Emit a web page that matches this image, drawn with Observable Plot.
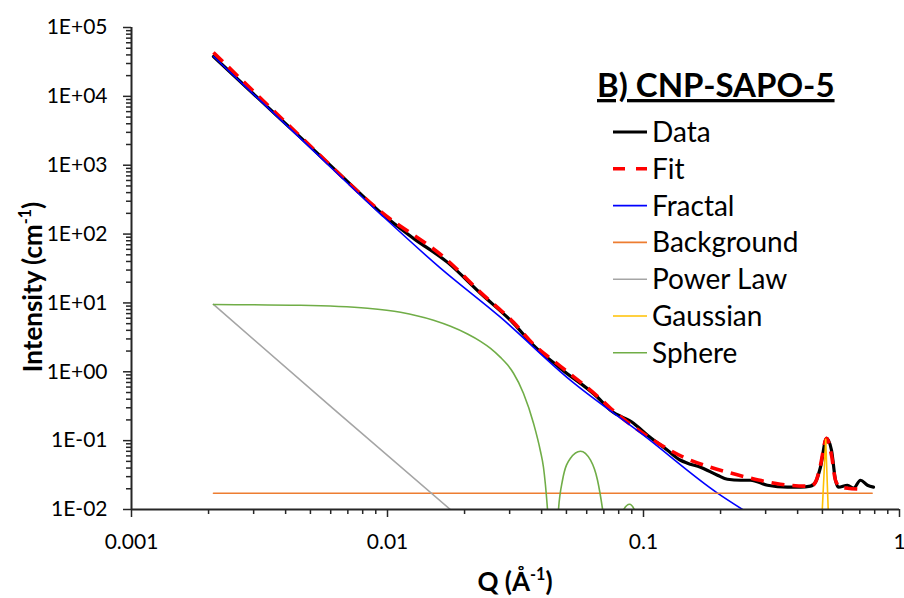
<!DOCTYPE html>
<html>
<head>
<meta charset="utf-8">
<script src="https://cdn.jsdelivr.net/npm/d3@7"></script>
<script src="https://cdn.jsdelivr.net/npm/@observablehq/plot@0.6"></script>
<style>
  html, body { margin: 0; padding: 0; background: #fff; }
  #wrap { width: 904px; height: 598px; }
</style>
</head>
<body>
<div id="wrap"></div>
<script>
// ---- data ----
const dataQ = [0.00209, 0.00319, 0.00457, 0.00717, 0.00939, 0.01264, 0.01716, 0.02308, 0.03106, 0.03718, 0.04741, 0.06613, 0.07433, 0.09139, 0.1036, 0.1241, 0.1395, 0.1485, 0.1670, 0.1945, 0.2129, 0.2393, 0.2618, 0.3050, 0.3652, 0.4106, 0.4491, 0.4696, 0.4912, 0.5186, 0.5425, 0.5623, 0.5777, 0.6263, 0.6610, 0.7040, 0.7499, 0.7914];
const dataI = [37950, 8720, 2532, 526, 206, 86.6, 38.8, 13.8, 5.06, 2.42, 1.12, 0.427, 0.276, 0.179, 0.120, 0.0726, 0.0519, 0.0470, 0.0411, 0.0315, 0.0275, 0.0266, 0.0266, 0.0225, 0.0211, 0.0211, 0.0218, 0.0249, 0.0411, 0.108, 0.0726, 0.0266, 0.0211, 0.0225, 0.0204, 0.0266, 0.0225, 0.0211];

const fitQ = [0.00209, 0.00457, 0.00939, 0.01716, 0.02308, 0.03106, 0.03718, 0.04741, 0.06613, 0.07433, 0.1065, 0.1433, 0.1827, 0.2129, 0.2618, 0.3428, 0.4491, 0.4696, 0.4912, 0.5186, 0.5425, 0.5623, 0.5882, 0.6263, 0.7040];
const fitI = [43390, 2618, 213.5, 41.5, 14.25, 5.23, 2.51, 1.20, 0.441, 0.295, 0.1083, 0.0574, 0.0411, 0.0348, 0.0285, 0.0233, 0.0218, 0.0249, 0.0440, 0.108, 0.0614, 0.0266, 0.0211, 0.0204, 0.0197];

const fractalQ = [0.00209, 0.00457, 0.00939, 0.0161, 0.0276, 0.0519, 0.1, 0.1945, 0.246];
const fractalI = [37950, 2450, 195, 32, 6.2, 0.75, 0.12, 0.0173, 0.0098];

const backgroundQ = [0.00209, 0.782];
const backgroundI = [0.0172, 0.0172];

const powerLawQ = [0.00209, 0.00615, 0.0176];
const powerLawI = [9.5, 0.29, 0.0100];

const gaussianQ = [0.47, 0.515, 0.55];
const gaussianI = [0.0001, 0.105, 0.0001];

const sphereQ = [0.00209, 0.00457, 0.00835, 0.01124, 0.01513, 0.01763, 0.02054, 0.02308, 0.02526, 0.02763, 0.02943, 0.03106, 0.03396, 0.03718, 0.03958, 0.04067, 0.04217, 0.0445, 0.04656, 0.04826, 0.05185, 0.05675, 0.0621, 0.06613, 0.06916, 0.0765, 0.0835, 0.0882, 0.0922, 0.1];
const sphereI = [9.5, 9.23, 8.35, 7.31, 5.59, 4.57, 3.54, 2.77, 2.19, 1.62, 1.26, 0.951, 0.488, 0.179, 0.0702, 0.0411, 0.0101, 0.0003, 0.0101, 0.0266, 0.0556, 0.0702, 0.052, 0.0266, 0.0102, 0.0003, 0.0098, 0.0119, 0.0098, 0.0003];

const seriesNames = ["Data", "Fit", "Fractal", "Background", "Power Law", "Gaussian", "Sphere"];
const seriesColors = ["#000000", "#FF0000", "#0000FF", "#ED7D31", "#A5A5A5", "#FFC000", "#70AD47"];

const xTicks = [0.001, 0.01, 0.1, 1];
const xTickLabels = ["0.001", "0.01", "0.1", "1"];
const yTicks = [0.01, 0.1, 1, 10, 100, 1000, 10000, 100000];
const yTickLabels = ["1E-02", "1E-01", "1E+00", "1E+01", "1E+02", "1E+03", "1E+04", "1E+05"];

const chartTitle = "B) CNP-SAPO-5";
const xLabel = ["Q (Å", "-1", ")"];
const yLabel = ["Intensity (cm", "-1", ")"];

// ---- build tables ----
const rows = (qs, is) => qs.map((q, k) => ({ q, v: is[k] }));
const series = [
  rows(dataQ, dataI), rows(fitQ, fitI), rows(fractalQ, fractalI),
  rows(backgroundQ, backgroundI), rows(powerLawQ, powerLawI),
  rows(gaussianQ, gaussianI), rows(sphereQ, sphereI)
];
const widths = [3.2, 3.6, 1.6, 1.6, 1.6, 1.6, 1.6];
const dashes = [null, "13,8", null, null, null, null, null];
const curves = ["monotone-x", "monotone-x", "monotone-x", "linear", "linear", "linear", "monotone-x"];

const minorOf = (majors) => {
  const out = [];
  for (let k = 0; k < majors.length - 1; k++)
    for (let m = 2; m <= 9; m++) out.push(+(majors[k] * m).toPrecision(6));
  return out;
};
const xMinor = minorOf(xTicks);
const yMinor = minorOf(yTicks);
const xFmt = new Map(xTicks.map((t, k) => [t, xTickLabels[k]]));
const yFmt = new Map(yTicks.map((t, k) => [t, yTickLabels[k]]));

const axisColor = "#262626";
const FONT = "Lato, 'Open Sans', sans-serif";

const lineMarks = series.map((s, k) => Plot.line(s, {
  x: "q", y: "v", stroke: seriesColors[k], strokeWidth: widths[k],
  strokeDasharray: dashes[k] || undefined, clip: true, curve: curves[k],
  strokeLinejoin: "round", strokeLinecap: dashes[k] ? "butt" : "round"
}));

const chart = Plot.plot({
  width: 904, height: 598,
  marginLeft: 131, marginRight: 5, marginTop: 27, marginBottom: 89,
  x: { type: "log", domain: [0.001, 1] },
  y: { type: "log", domain: [0.01, 100000] },
  style: { fontFamily: FONT, fontSize: "21px", color: "#000", background: "#fff", overflow: "visible" },
  marks: [
    Plot.axisX({ ticks: xMinor, tickSize: 5, tickFormat: () => "", label: null, stroke: axisColor, strokeWidth: 1.5 }),
    Plot.axisX({ ticks: xTicks, tickSize: 8, tickPadding: 17, tickFormat: d => xFmt.get(d), label: null, stroke: axisColor, strokeWidth: 1.5, fill: "#000" }),
    Plot.axisY({ ticks: yMinor, tickSize: 5, tickFormat: () => "", label: null, stroke: axisColor, strokeWidth: 1.5 }),
    Plot.axisY({ ticks: yTicks, tickSize: 8, tickPadding: 16, tickFormat: d => yFmt.get(d), label: null, stroke: axisColor, strokeWidth: 1.5, fill: "#000" }),
    ...lineMarks,
    Plot.ruleY([0.01], { stroke: axisColor, strokeWidth: 2 }),
    Plot.ruleX([0.001], { stroke: axisColor, strokeWidth: 2 })
  ]
});

document.getElementById("wrap").appendChild(chart);

// ---- axis titles, chart title and legend (text placed in the SVG) ----
const svg = d3.select(chart);
const ann = svg.append("g").attr("font-family", FONT).attr("fill", "#000").attr("text-anchor", "start");

function supText(g, parts, size) {
  g.append("tspan").text(parts[0]);
  g.append("tspan").attr("dy", -size * 0.42).attr("font-size", size * 0.62).text(parts[1]);
  g.append("tspan").attr("dy", size * 0.42).attr("font-size", size).text(parts[2]);
}

const xl = ann.append("text").attr("x", 515).attr("y", 591)
  .attr("text-anchor", "middle").attr("font-weight", "bold").attr("font-size", 26);
supText(xl, xLabel, 26);

const yl = ann.append("text").attr("transform", "translate(42,287) rotate(-90)")
  .attr("text-anchor", "middle").attr("font-weight", "bold").attr("font-size", 26);
supText(yl, yLabel, 26);

ann.append("text").attr("x", 597).attr("y", 97).attr("text-anchor", "start")
  .attr("font-weight", "bold").attr("font-size", 33)
  .attr("text-decoration", "underline").text(chartTitle);

const legend = ann.append("g").attr("text-anchor", "start");
const legendY0 = 132, legendStep = 36.8;
seriesNames.forEach((name, k) => {
  const cy = legendY0 + k * legendStep;
  legend.append("line").attr("x1", 613).attr("x2", 647).attr("y1", cy).attr("y2", cy)
    .attr("stroke", seriesColors[k]).attr("stroke-width", widths[k])
    .attr("stroke-dasharray", dashes[k] ? "12,11" : null);
  legend.append("text").attr("x", 652).attr("y", cy).attr("dy", "0.36em")
    .attr("text-anchor", "start").attr("font-size", 28).text(name);
});
</script>
</body>
</html>
